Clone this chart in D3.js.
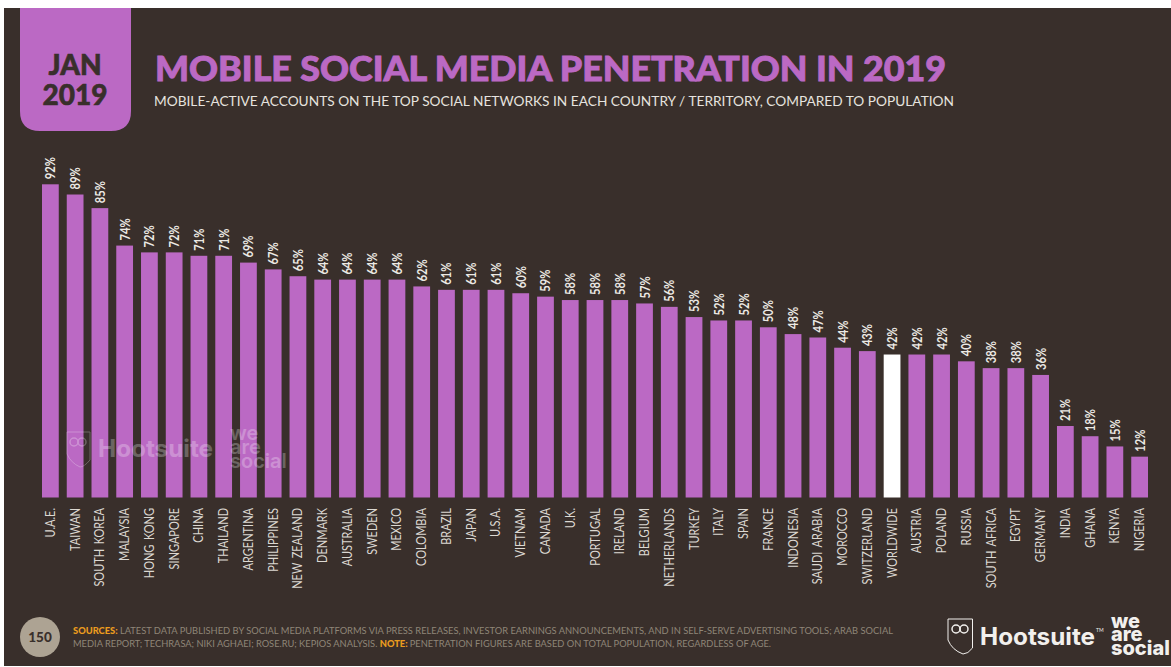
<!DOCTYPE html>
<html>
<head>
<meta charset="utf-8">
<script src="https://cdnjs.cloudflare.com/ajax/libs/d3/7.8.5/d3.min.js"></script>
<style>
html,body{margin:0;padding:0;background:#fff;}
svg{display:block;}
text{font-family:Lato,"Noto Sans",sans-serif;}
</style>
</head>
<body>
<div id="chart"></div>
<script>
const countries = ["U.A.E.","TAIWAN","SOUTH KOREA","MALAYSIA","HONG KONG","SINGAPORE","CHINA","THAILAND","ARGENTINA","PHILIPPINES","NEW ZEALAND","DENMARK","AUSTRALIA","SWEDEN","MEXICO","COLOMBIA","BRAZIL","JAPAN","U.S.A.","VIETNAM","CANADA","U.K.","PORTUGAL","IRELAND","BELGIUM","NETHERLANDS","TURKEY","ITALY","SPAIN","FRANCE","INDONESIA","SAUDI ARABIA","MOROCCO","SWITZERLAND","WORLDWIDE","AUSTRIA","POLAND","RUSSIA","SOUTH AFRICA","EGYPT","GERMANY","INDIA","GHANA","KENYA","NIGERIA"];
const penetration = [92,89,85,74,72,72,71,71,69,67,65,64,64,64,64,62,61,61,61,60,59,58,58,58,57,56,53,52,52,50,48,47,44,43,42,42,42,40,38,38,36,21,18,15,12];
const highlighted = ["WORLDWIDE"];
const brandWords = ["we","are","social"];

const W = 1171, H = 667;
const BG = "#392f2b", PURPLE = "#bb69c4", TAN = "#ada393";

const svg = d3.select("#chart").append("svg").attr("width", W).attr("height", H);
svg.append("rect").attr("x",4).attr("y",8).attr("width",W-4).attr("height",H-9).attr("fill",BG);

// Date tab
svg.append("path").attr("fill",PURPLE)
  .attr("d","M20 8H131V111Q131 131 111 131H40Q20 131 20 111Z");
const tab = svg.append("g").attr("text-anchor","middle").attr("fill",BG)
  .attr("stroke",BG).attr("stroke-width",0.6)
  .style("font-weight",900).style("font-size","28px");
tab.append("text").attr("x",75).attr("y",75).text("JAN");
tab.append("text").attr("x",75).attr("y",105).text("2019");

// Heading
svg.append("text").attr("x",155).attr("y",80.5).attr("fill",PURPLE)
  .attr("stroke",PURPLE).attr("stroke-width",0.9)
  .style("font-size","35px").style("font-weight",900)
  .attr("textLength",791).attr("lengthAdjust","spacingAndGlyphs")
  .text("MOBILE SOCIAL MEDIA PENETRATION IN 2019");
svg.append("text").attr("x",154).attr("y",106).attr("fill","#e6e3df")
  .style("font-size","14px")
  .attr("textLength",800).attr("lengthAdjust","spacingAndGlyphs")
  .text("MOBILE-ACTIVE ACCOUNTS ON THE TOP SOCIAL NETWORKS IN EACH COUNTRY / TERRITORY, COMPARED TO POPULATION");

// Bars
const baseline = 497.5;
const x = d3.scaleBand().domain(countries).range([42,1148]).paddingInner(0.323).paddingOuter(0);
const y = d3.scaleLinear().domain([0,92]).range([baseline,184.3]);

svg.append("g").selectAll("rect").data(countries).join("rect")
  .attr("x",d=>x(d)).attr("width",x.bandwidth())
  .attr("y",(d,i)=>y(penetration[i]))
  .attr("height",(d,i)=>baseline-y(penetration[i]))
  .attr("fill",d=>highlighted.includes(d)?"#ffffff":PURPLE);

// Value labels
svg.append("g").selectAll("text").data(countries).join("text")
  .attr("transform",(d,i)=>`translate(${x(d)+x.bandwidth()/2+5},${y(penetration[i])-5}) rotate(-90) scale(0.8,1)`)
  .attr("fill","#ece9e4").style("font-size","14px").style("font-weight",700)
  .text((d,i)=>penetration[i]+"%");

// Country labels
svg.append("g").selectAll("text").data(countries).join("text")
  .attr("transform",d=>`translate(${x(d)+x.bandwidth()/2+4.5},508) rotate(-90) scale(0.88,1)`)
  .attr("text-anchor","end").attr("fill","#dcd8d2").style("font-size","12.5px")
  .style("word-spacing","2px")
  .text(d=>d);

// Stacked three-word wordmark, kept as one text element
function wordmark(parent, left, first, gaps, size, weight) {
  const t = parent.append("text").style("font-family","Inter").style("font-size",size+"px").style("font-weight",weight);
  brandWords.forEach((word,i)=>{
    t.append("tspan").attr("x",left)
      .attr("y",first + d3.sum(gaps.slice(0,i))).text(word);
  });
}

// Faint watermark over the bars
const mark = svg.append("g").attr("fill","#ffffff").attr("opacity",0.26);
mark.append("text").attr("x",98).attr("y",456.5).style("font-size","24px").style("font-weight",700)
  .style("font-family","Inter").attr("textLength",115).attr("lengthAdjust","spacingAndGlyphs").text("Hootsuite");
wordmark(mark, 230, 440, [14,14], 20, 600);
mark.append("path").attr("fill","none").attr("stroke","#fff").attr("stroke-width",1)
  .attr("d","M67 432H90V460Q84 467 80 467Q71 463 67 454Z");
mark.selectAll("circle.eye").data([74,82]).join("circle").attr("class","eye")
  .attr("cx",d=>d).attr("cy",442).attr("r",4).attr("fill","none").attr("stroke","#fff").attr("stroke-width",1.5);

// Page number
svg.append("circle").attr("cx",40).attr("cy",637).attr("r",20).attr("fill",TAN);
svg.append("text").attr("x",40).attr("y",642).attr("text-anchor","middle").attr("fill",BG)
  .style("font-size","13.5px").style("font-weight",900).text("150");

// Source notes
const foot = svg.append("g").style("font-size","9.5px").attr("fill","#8f8678");
const line1 = foot.append("text").attr("x",73).attr("y",634).attr("textLength",820).attr("lengthAdjust","spacingAndGlyphs");
line1.append("tspan").attr("fill","#eb9c1e").style("font-weight",900).text("SOURCES: ");
line1.append("tspan").text("LATEST DATA PUBLISHED BY SOCIAL MEDIA PLATFORMS VIA PRESS RELEASES, INVESTOR EARNINGS ANNOUNCEMENTS, AND IN SELF-SERVE ADVERTISING TOOLS; ARAB SOCIAL");
const line2 = foot.append("text").attr("x",73).attr("y",647).attr("textLength",698).attr("lengthAdjust","spacingAndGlyphs");
line2.append("tspan").text("MEDIA REPORT; TECHRASA; NIKI AGHAEI; ROSE.RU; KEPIOS ANALYSIS. ");
line2.append("tspan").attr("fill","#eb9c1e").style("font-weight",900).text("NOTE: ");
line2.append("tspan").text("PENETRATION FIGURES ARE BASED ON TOTAL POPULATION, REGARDLESS OF AGE.");

// Partner logos
const logo = svg.append("g").attr("fill","#f2f0ed");
logo.append("path").attr("fill","none").attr("stroke","#f2f0ed").attr("stroke-width",1)
  .attr("d","M948 619H972.5V648Q968 654 963 654Q952 650 948 640Z");
logo.selectAll("circle.eye").data([956,964]).join("circle").attr("class","eye")
  .attr("cx",d=>d).attr("cy",629).attr("r",4).attr("fill","none").attr("stroke","#f2f0ed").attr("stroke-width",1.5);
logo.append("text").attr("x",980).attr("y",644.5).style("font-size","24px").style("font-weight",700)
  .attr("textLength",115).attr("lengthAdjust","spacingAndGlyphs").style("font-family","Inter").text("Hootsuite");
logo.append("text").attr("x",1096).attr("y",632).style("font-size","5px").text("TM");
wordmark(logo, 1111, 628, [13,14], 20, 800);
</script>
</body>
</html>
